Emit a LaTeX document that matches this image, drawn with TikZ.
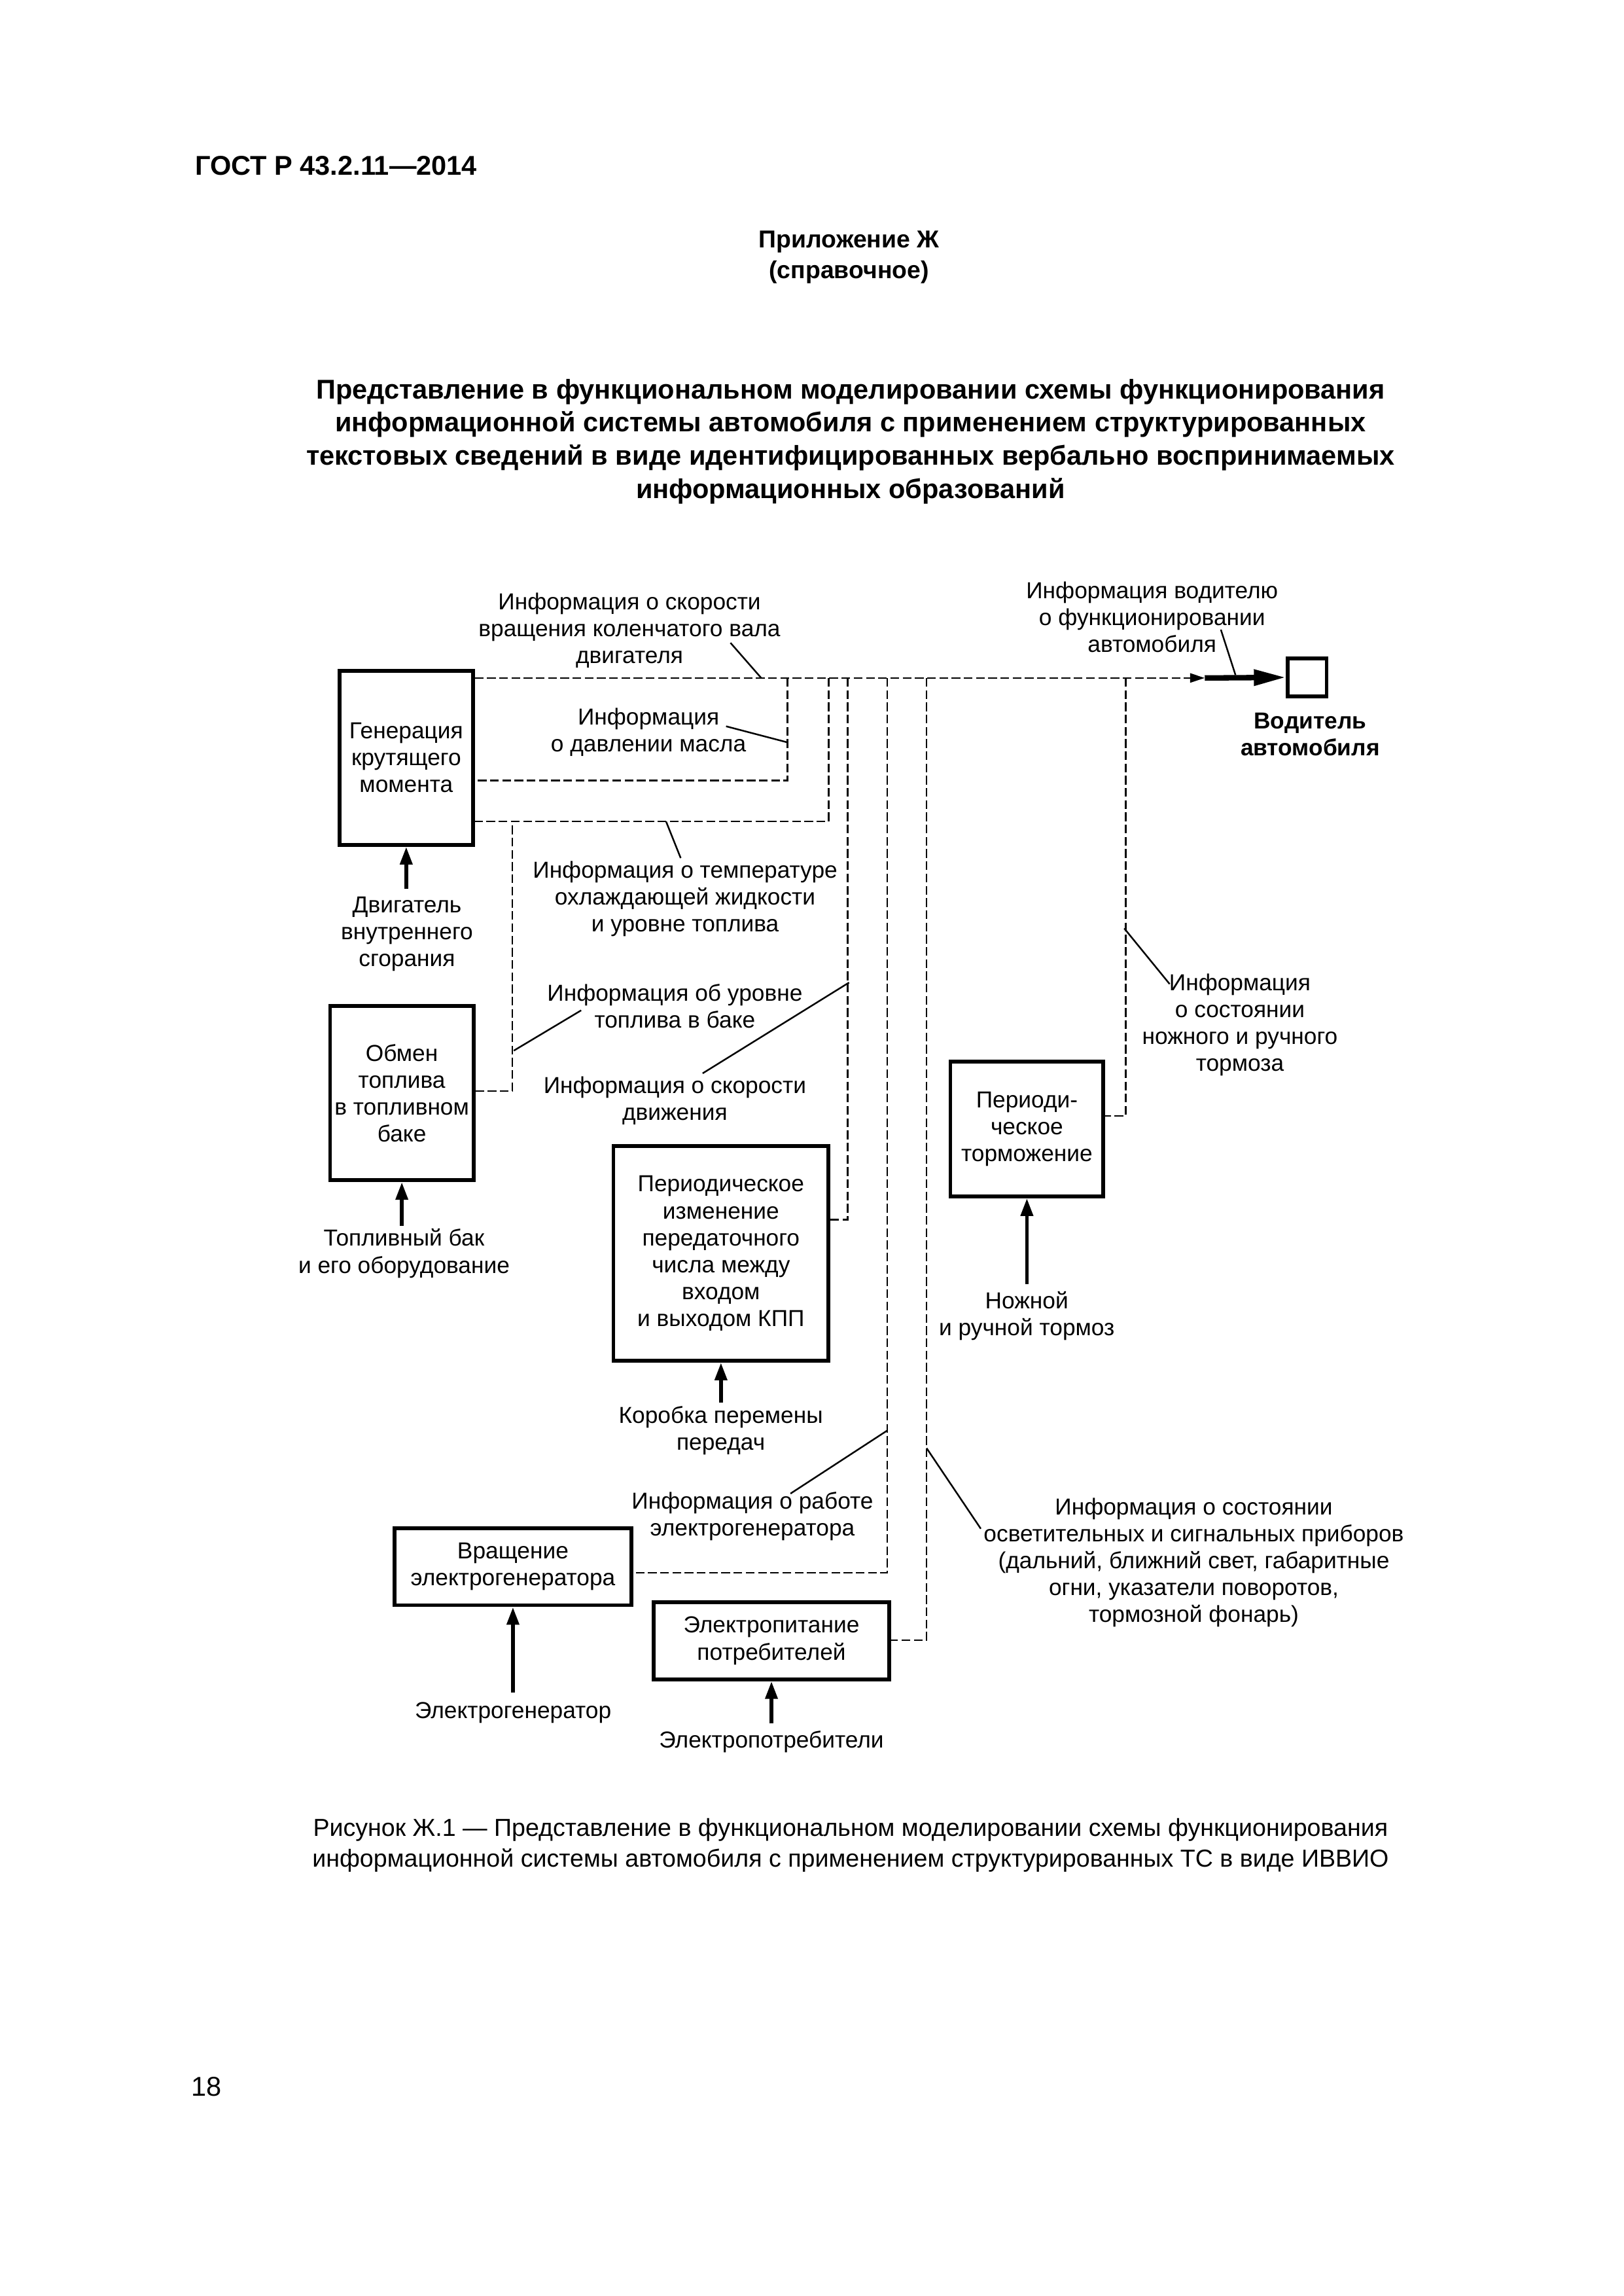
\documentclass[tikz,border=0pt]{standalone}
\usepackage{fontspec}
\setmainfont{Liberation Sans}
\usetikzlibrary{arrows.meta}
\newlength\upx
\setlength\upx{0.018936cm}
\newcommand\diagfnt{\fontsize{8.5}{9.9}\selectfont}
\begin{document}
\begin{tikzpicture}[x=0.018936cm,y=-0.018936cm,
  box/.style={draw, line width=1.4pt, align=center, inner sep=0pt, font=\diagfnt},
  lbl/.style={align=center, inner sep=0pt, font=\diagfnt},
  dline/.style={line width=0.6pt, dash pattern=on 3.2pt off 1.3pt},
  leader/.style={line width=0.6pt},
  inarrow/.style={line width=1.4pt, -{Triangle[length=6.5pt,width=4.4pt]}}]
\useasboundingbox (0,0) rectangle (1109,1568);

% ---------- page texts ----------
\node[anchor=west, inner sep=0pt, font=\fontsize{10}{12}\selectfont\bfseries] (hdr) at (133,113) {ГОСТ Р 43.2.11—2014};
\node[align=center, inner sep=0pt, font=\fontsize{9}{11.3}\selectfont\bfseries] (app) at (580,175.5) {Приложение Ж\\(справочное)};
\node[align=center, inner sep=0pt, font=\fontsize{10}{12.2}\selectfont\bfseries] (title) at (581,301.5) {Представление в функциональном моделировании схемы функционирования\\информационной системы автомобиля с применением структурированных\\текстовых сведений в виде идентифицированных вербально воспринимаемых\\информационных образований};
\node[align=center, inner sep=0pt, font=\fontsize{9.05}{11.3}\selectfont] (cap) at (581,1260) {Рисунок Ж.1 — Представление в функциональном моделировании схемы функционирования\\информационной системы автомобиля с применением структурированных ТС в виде ИВВИО};
\node[inner sep=0pt, font=\fontsize{10}{12}\selectfont] (pg) at (141,1425) {18};

% ---------- boxes ----------
\node[box, minimum width=91\upx, minimum height=119\upx] (gen) at (277.5,517.5) {Генерация\\крутящего\\момента};
\node[box, minimum width=98\upx, minimum height=119\upx] (obmen) at (274.5,746.5) {Обмен\\топлива\\в топливном\\баке};
\node[box, minimum width=147\upx, minimum height=146.5\upx] (gear) at (492.5,856) {Периодическое\\изменение\\передаточного\\числа между\\входом\\и выходом КПП};
\node[box, minimum width=104.5\upx, minimum height=92\upx] (brake) at (701.5,771) {Периоди-\\ческое\\торможение};
\node[box, minimum width=162\upx, minimum height=52.4\upx] (rot) at (350.4,1070) {Вращение\\электрогенератора};
\node[box, minimum width=161\upx, minimum height=52.7\upx] (pwr) at (527,1120.5) {Электропитание\\потребителей};
\node[box, minimum width=26.5\upx, minimum height=26.2\upx] (driver) at (893,462.6) {};

% ---------- labels ----------
\node[lbl] (lTop) at (430,430.5) {Информация о скорости\\вращения коленчатого вала\\двигателя};
\node[lbl] (lOil) at (443,500) {Информация\\о давлении масла};
\node[lbl] (lTemp) at (468,614) {Информация о температуре\\охлаждающей жидкости\\и уровне топлива};
\node[lbl] (lEng) at (278,638) {Двигатель\\внутреннего\\сгорания};
\node[lbl] (lLevel) at (461,687) {Информация об уровне\\топлива в баке};
\node[lbl] (lSpeed) at (461,751.5) {Информация о скорости\\движения};
\node[lbl] (lTank) at (276,856) {Топливный бак\\и его оборудование};
\node[lbl] (lBox) at (492.4,977) {Коробка перемены\\передач};
\node[lbl] (lBrInfo) at (847,700) {Информация\\о состоянии\\ножного и ручного\\тормоза};
\node[lbl] (lBrake) at (701.4,898.7) {Ножной\\и ручной тормоз};
\node[lbl] (lDrvInfo) at (787,421.5) {Информация водителю\\о функционировании\\автомобиля};
\node[lbl, font=\diagfnt\bfseries] (lDriver) at (895,501.5) {Водитель\\автомобиля};
\node[lbl] (lGenInfo) at (514,1035.5) {Информация о работе\\электрогенератора};
\node[lbl] (lLight) at (815.5,1067) {Информация о состоянии\\осветительных и сигнальных приборов\\(дальний, ближний свет, габаритные\\огни, указатели поворотов,\\тормозной фонарь)};
\node[lbl] (lEGen) at (350.5,1169.5) {Электрогенератор};
\node[lbl] (lECons) at (527,1189.3) {Электропотребители};

% ---------- bus and branches ----------
\coordinate (jOil) at (538,463);
\coordinate (jTemp) at (566,463);
\coordinate (jSpeed) at (579,463);
\coordinate (jGen) at (606,463);
\coordinate (jLight) at (633,463);
\coordinate (jBrake) at (769,463);
\coordinate (arrMid) at (823,463);
\coordinate (jLevel) at (350,561);

\draw[dline, -{Triangle[length=5.4pt,width=3.4pt]}] (gen.east |- 0,463) -- (arrMid);
\draw[line width=2pt, -{Triangle[length=11.8pt,width=5.6pt]}] (arrMid) -- (driver.west);

\draw[dline] (jOil) |- (gen.east |- 0,533);
\draw[dline] (jTemp) |- (gen.east |- 0,561);
\draw[dline] (obmen.east |- 0,745) -| (jLevel);
\draw[dline] (jSpeed) |- (gear.east |- 0,833);
\draw[dline] (jGen) |- (rot.east |- 0,1074);
\draw[dline] (jLight) |- (pwr.east |- 0,1120);
\draw[dline] (jBrake) |- (brake.east |- 0,762);

% ---------- leaders ----------
\draw[leader] (499,439) -- (520,463);
\draw[leader] (496,496) -- (538,507);
\draw[leader] (455,561) -- (465,586);
\draw[leader] (397,690) -- (351,717.5);
\draw[leader] (580,671) -- (480,733);
\draw[leader] (768,634) -- (799,672);
\draw[leader] (606,977) -- (540,1020);
\draw[leader] (633,989) -- (670,1044);
\draw[leader] (834,430) -- (844,461);

% ---------- input arrows ----------
\coordinate (inGen) at (277.5,607);
\coordinate (inObmen) at (274.5,837);
\coordinate (inGear) at (492.5,958);
\coordinate (inBrake) at (701.5,877);
\coordinate (inRot) at (350.4,1156);
\coordinate (inPwr) at (527,1177);
\draw[inarrow] (inGen) -- (gen.south);
\draw[inarrow] (inObmen) -- (obmen.south);
\draw[inarrow] (inGear) -- (gear.south);
\draw[inarrow] (inBrake) -- (brake.south);
\draw[inarrow] (inRot) -- (rot.south);
\draw[inarrow] (inPwr) -- (pwr.south);
\end{tikzpicture}
\end{document}
